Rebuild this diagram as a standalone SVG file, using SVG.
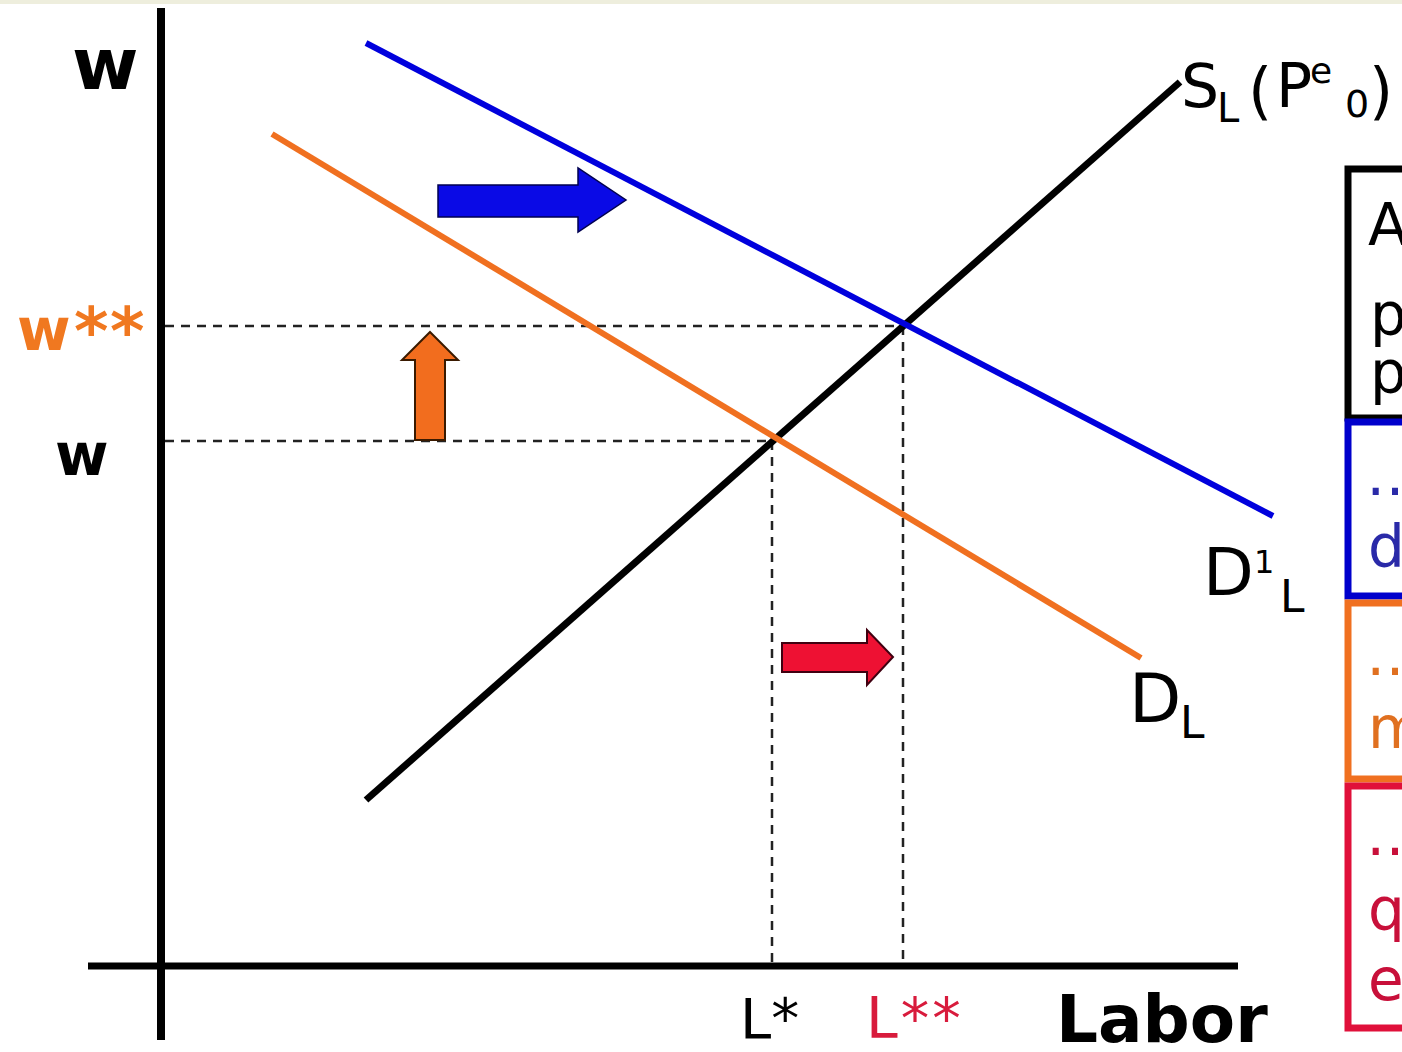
<svg xmlns="http://www.w3.org/2000/svg" width="1402" height="1052" viewBox="0 0 1402 1052">
<style>
.t{font-family:"DejaVu Sans","Liberation Sans",sans-serif;fill:#000}
.b{font-weight:bold}
.dash{stroke:#222;stroke-width:2.5;stroke-dasharray:9 7;fill:none}
.box{fill:#fff;stroke-width:7}
</style>
<rect x="0" y="0" width="1402" height="1052" fill="#fff"/>
<rect x="0" y="0" width="1402" height="4" fill="#eeeedd"/>
<g id="axes">
<line x1="161" y1="8" x2="161" y2="1040" stroke="#000" stroke-width="8"/>
<line x1="88" y1="966" x2="1238" y2="966" stroke="#000" stroke-width="7"/>
</g>
<g id="connectors">
<line class="dash" x1="165" y1="326" x2="905" y2="326"/>
<line class="dash" x1="165" y1="441" x2="772" y2="441"/>
<line class="dash" x1="772" y1="441" x2="772" y2="962"/>
<line class="dash" x1="903" y1="326" x2="903" y2="962"/>
<line id="supply" x1="366" y1="800" x2="1180" y2="82" stroke="#000" stroke-width="7"/>
<line id="demand1" x1="366" y1="43" x2="1273" y2="516" stroke="#0000dd" stroke-width="6"/>
<line id="demand" x1="272" y1="134" x2="1141" y2="658" stroke="#f07020" stroke-width="6"/>
</g>
<g id="arrow-blue">
<polygon points="438,185 578,185 578,168 626,200 578,232 578,217 438,217" fill="#0a0ae6" stroke="#000050" stroke-width="1.5"/>
</g>
<g id="arrow-orange">
<polygon points="430,332 458,360 445,360 445,440 415,440 415,360 402,360" fill="#f26d1e" stroke="#3a1a00" stroke-width="2"/>
</g>
<g id="arrow-red">
<polygon points="782,643 867,643 867,630 893,657 867,685 867,672 782,672" fill="#ee1133" stroke="#400010" stroke-width="2"/>
</g>
<g id="labels">
<text class="t b" x="72" y="89" font-size="72">w</text>
<text class="t b" x="17" y="350" font-size="58" style="fill:#f07820">w</text>
<text class="t b" x="74" y="354" font-size="66" style="fill:#f07820">*</text>
<text class="t b" x="110" y="354" font-size="66" style="fill:#f07820">*</text>
<text class="t b" x="55" y="475" font-size="58">w</text>
<text class="t" x="740" y="1038" font-size="56">L*</text>
<text class="t" x="866" y="1038" font-size="57" letter-spacing="3" style="fill:#d81b3c">L**</text>
<text class="t b" x="1056" y="1042" font-size="66">Labor</text>
</g>
<g id="label-supply">
<text class="t" x="1181" y="107" font-size="60">S</text>
<text class="t" x="1217" y="122" font-size="40">L</text>
<text class="t" x="1248" y="112" font-size="62">(</text>
<text class="t" x="1276" y="107" font-size="60">P</text>
<text class="t" x="1310" y="83" font-size="36">e</text>
<text class="t" x="1345" y="117" font-size="38">0</text>
<text class="t" x="1369" y="112" font-size="62">)</text>
</g>
<g id="label-d1">
<text class="t" x="1203" y="595" font-size="66">D</text>
<text class="t" x="1254" y="573" font-size="32">1</text>
<text class="t" x="1280" y="612" font-size="44">L</text>
</g>
<g id="label-d">
<text class="t" x="1129" y="722" font-size="68">D</text>
<text class="t" x="1180" y="738" font-size="44">L</text>
</g>
<g id="box-black">
<rect class="box" x="1348" y="169" width="120" height="249" stroke="#000"/>
<text class="t" x="1368" y="245" font-size="58">A</text>
<text class="t" x="1370" y="335" font-size="58">p</text>
<text class="t" x="1370" y="393" font-size="58">p</text>
</g>
<g id="box-blue">
<rect class="box" x="1348" y="422" width="120" height="174" stroke="#0000cc"/>
<text class="t" x="1366" y="495" font-size="58" style="fill:#2a2aa8">…</text>
<text class="t" x="1368" y="567" font-size="58" style="fill:#2a2aa8">d</text>
</g>
<g id="box-orange">
<rect class="box" x="1348" y="603" width="120" height="176" stroke="#f07020"/>
<text class="t" x="1366" y="675" font-size="58" style="fill:#e07020">…</text>
<text class="t" x="1368" y="748" font-size="58" style="fill:#e07020">m</text>
</g>
<g id="box-red">
<rect class="box" x="1348" y="786" width="120" height="242" stroke="#e0103a"/>
<text class="t" x="1366" y="855" font-size="58" style="fill:#c8103a">…</text>
<text class="t" x="1368" y="930" font-size="58" style="fill:#c8103a">q</text>
<text class="t" x="1368" y="1000" font-size="58" style="fill:#c8103a">e</text>
</g>
</svg>
